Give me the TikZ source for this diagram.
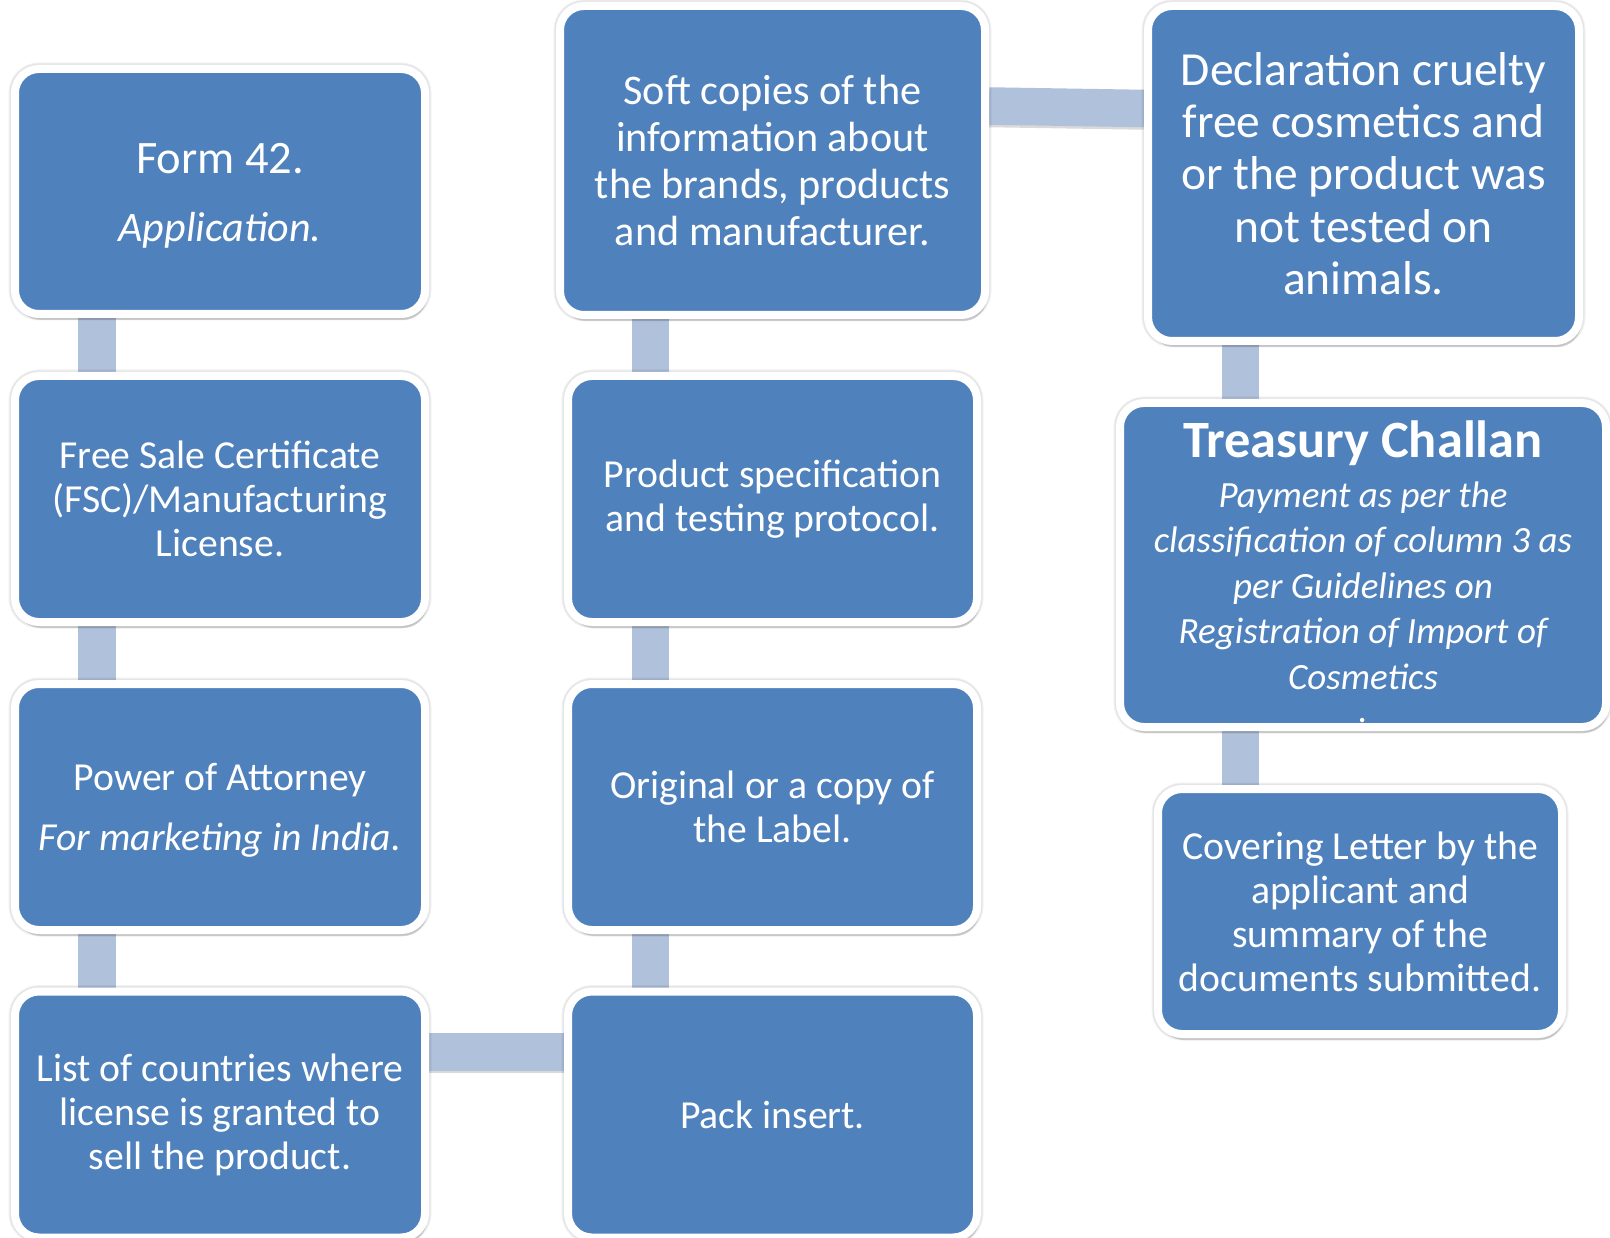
\documentclass[tikz,border=0pt]{standalone}
\usepackage{fontspec}
\setmainfont{Carlito}
\usetikzlibrary{shadows,backgrounds,calc}
\definecolor{boxblue}{HTML}{4F81BD}
\definecolor{connblue}{HTML}{B0C1DC}
\begin{document}
\begin{tikzpicture}[x=1pt,y=-1pt,
  box/.style={rectangle, rounded corners=24pt, fill=boxblue, draw=white,
    line width=8pt, text=white, align=center, inner sep=0pt,
    drop shadow={shadow xshift=2pt, shadow yshift=-6pt, opacity=0.2, fill=black!70},
    preaction={draw=black, opacity=0.05, line width=13pt},
    preaction={draw=black, opacity=0.05, line width=11pt}},
  conn/.style={draw=connblue, line width=37.5pt,
    preaction={draw=black, opacity=0.15, line width=37.5pt, transform canvas={yshift=-2.5pt}}},
  body/.style={font=\fontsize{39.7pt}{44pt}\selectfont},
  stdbox/.style={box, body, minimum width=410pt, minimum height=246pt}]
\useasboundingbox (0,0) rectangle (1610,1238);

% column 1
\node[box, minimum width=410pt, minimum height=245pt, font=\fontsize{46.5pt}{46.5pt}\selectfont]
  (form) at (220,191.5) {\rule{0pt}{39pt}Form 42.\\[21.5pt]{\itshape\fontsize{42pt}{42pt}\selectfont Application.}};
\node[stdbox] (fsc) at (220,499) {Free Sale Certificate\\(FSC)/Manufacturing\\License.};
\node[stdbox] (poa) at (220,807) {\rule{0pt}{34pt}Power of Attorney\\[16pt]\textit{For marketing in India.}};
\node[stdbox] (list) at (220,1114.5) {List of countries where\\license is granted to\\sell the product.};

% column 2
\node[box, minimum width=425pt, minimum height=309pt, font=\fontsize{42.2pt}{46.7pt}\selectfont]
  (soft) at (772.5,160.5) {Soft copies of the\\information about\\the brands, products\\and manufacturer.};
\node[stdbox, minimum width=409pt] (spec) at (772.5,499) {Product specification\\and testing protocol.};
\node[stdbox, minimum width=409pt] (orig) at (772.5,807) {Original or a copy of\\the Label.};
\node[stdbox, minimum width=409pt] (pack) at (772.5,1114.5) {Pack insert.};

% column 3
\node[box, minimum width=431pt, minimum height=335pt, font=\fontsize{47.5pt}{52.4pt}\selectfont]
  (decl) at (1363.5,173.5) {Declaration cruelty\\free cosmetics and\\or the product was\\not tested on\\animals.};
\node[box, minimum width=486pt, minimum height=324pt, font=\itshape\fontsize{37pt}{45.5pt}\selectfont]
  (treas) at (1363,565) {\rule{0pt}{50pt}{\bfseries\upshape\fontsize{52.4pt}{52.4pt}\selectfont Treasury Challan}\\[4.5pt]Payment as per the\\classification of column 3 as\\per Guidelines on\\Registration of Import of\\Cosmetics\\[-12pt].};
\node[stdbox, minimum width=404pt, minimum height=245pt] (cover) at (1360,911.5) {Covering Letter by the\\applicant and\\summary of the\\documents submitted.};

\coordinate (c1) at (97,0);
\coordinate (c2) at (650.5,0);
\coordinate (c3) at (1240.5,0);
\coordinate (h1) at (0,1052);

\begin{scope}[on background layer]
  \fill[white] (0,0) rectangle (1610,1238);
  \draw[conn] (form.south -| c1) -- (fsc.north -| c1);
  \draw[conn] (fsc.south -| c1) -- (poa.north -| c1);
  \draw[conn] (poa.south -| c1) -- (list.north -| c1);
  \draw[conn] (list.east |- h1) -- (pack.west |- h1);
  \draw[conn] (soft.south -| c2) -- (spec.north -| c2);
  \draw[conn] (spec.south -| c2) -- (orig.north -| c2);
  \draw[conn] (orig.south -| c2) -- (pack.north -| c2);
  \draw[conn] ($(soft.east)+(0,-54.5)$) -- ($(decl.west)+(0,-65)$);
  \draw[conn] (decl.south -| c3) -- (treas.north -| c3);
  \draw[conn] (treas.south -| c3) -- (cover.north -| c3);
\end{scope}
\end{tikzpicture}
\end{document}
